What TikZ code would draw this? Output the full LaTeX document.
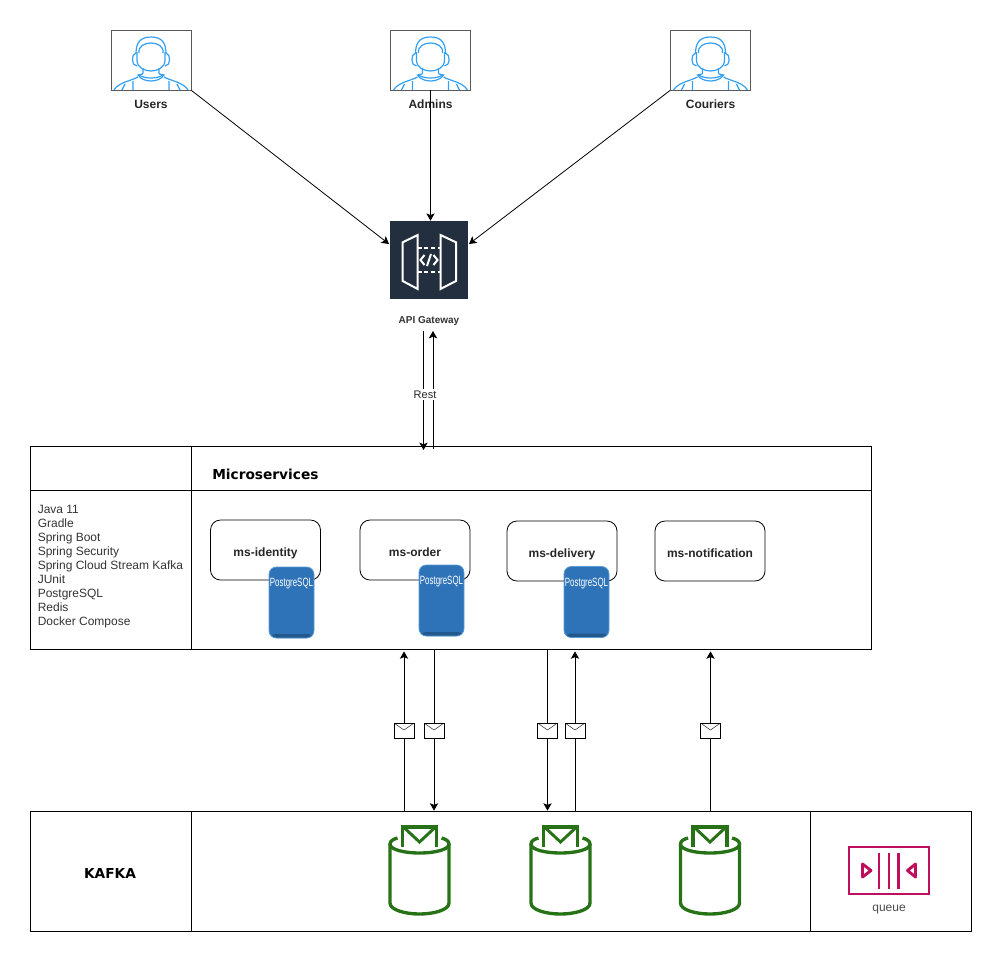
\documentclass[tikz,border=0pt]{standalone}
\usepackage{fontspec}
\setmainfont{Liberation Sans}
\newfontfamily\titlefont{DejaVu Sans}
\usepackage{tikz}
\usetikzlibrary{arrows.meta, positioning}
\definecolor{personblue}{RGB}{51,160,245}
\definecolor{gatewaydark}{RGB}{35,47,62}
\definecolor{storeblue}{RGB}{46,115,184}
\definecolor{storeedge}{RGB}{91,155,213}
\definecolor{storedark}{RGB}{35,88,141}
\definecolor{topicgreen}{RGB}{39,113,22}
\definecolor{queuered}{RGB}{191,15,92}
\newcommand{\px}{0.75pt}
\tikzset{
  flow/.style={-{Stealth[length=5.5pt,width=6.2pt,inset=1.2pt]}, line width=0.6pt},
  plainline/.style={line width=0.6pt},
  cell/.style={draw, line width=0.6pt, inner sep=0pt},
  actorbox/.style={draw=black!65, line width=0.7pt, inner sep=0pt, minimum width=80*\px, minimum height=60*\px},
  actorname/.style={font=\fontsize{9}{11}\selectfont\bfseries, text=black!85, inner sep=1pt, text height=6.6pt, text depth=0pt},
  servicebox/.style={draw, rounded corners=7.5pt, line width=0.6pt, inner sep=0pt, minimum width=110*\px, minimum height=60*\px,
    font=\fontsize{9}{11}\selectfont\bfseries, text=black!85, text height=9.5pt, text depth=0pt},
  pgstore/.style={draw=storeedge, fill=storeblue, rounded corners=5.5pt, line width=0.6pt, inner sep=0pt,
    minimum width=45*\px, minimum height=71*\px,
    path picture={\fill[storedark] (path picture bounding box.south west) rectangle ++(46,-4);},
    label={[anchor=north, inner sep=0pt, yshift=-8.5pt, text=white, font=\fontsize{9}{11}\selectfont]north:\scalebox{0.66}[1]{PostgreSQL}}},
  mailbox/.style={draw, fill=white, line width=0.6pt, inner sep=0pt, minimum width=20*\px, minimum height=15*\px,
    path picture={\draw[line width=0.4pt, black!80] (path picture bounding box.north west) -- ++(10,7) -- (path picture bounding box.north east);}},
  personicon/.pic={
    \begin{scope}[personblue, line width=0.9pt]
      \draw (-15,-6) .. controls (-15,-16) and (-12,-23) .. (0,-23) .. controls (12,-23) and (15,-16) .. (15,-6);
      \draw (-12,-7) .. controls (-13,-14) and (-6,-17) .. (0,-17) .. controls (6,-17) and (13,-14) .. (12,-7);
      \draw (-14,-8) -- (-14,0) .. controls (-14,8) and (-6,11) .. (0,11) .. controls (6,11) and (14,8) .. (14,0) -- (14,-8);
      \draw (-15,-7) .. controls (-20,-6) and (-20,6) .. (-14,6);
      \draw (15,-7) .. controls (20,-6) and (20,6) .. (14,6);
      \draw (-8,8) -- (-8,13) .. controls (-8,15) and (-12,14) .. (-13,15) .. controls (-8,23) and (8,23) .. (13,15) .. controls (12,14) and (8,15) .. (8,13) -- (8,8);
      \draw (-12,15) .. controls (-6,19) and (6,19) .. (12,15);
      \draw (-37,30) .. controls (-32,22) and (-20,21) .. (-13,17);
      \draw (37,30) .. controls (32,22) and (20,21) .. (13,17);
      \draw (-26,24) -- (-29,30) (-18,21) -- (-18,30) (26,24) -- (29,30) (18,21) -- (18,30);
    \end{scope}
  },
  topicicon/.pic={
    \begin{scope}[topicgreen, line width=2.5pt]
      \draw (-17,-23) -- (-17,-43) -- (17,-43) -- (17,-23);
      \draw[line width=2.2pt] (-15,-42) -- (0,-28) -- (15,-42);
      \draw (-22,-32) .. controls (-26,-31) and (-29.5,-29) .. (-29.5,-26) .. controls (-29.5,-20) and (-14,-17) .. (0,-17) .. controls (14,-17) and (29.5,-20) .. (29.5,-26) .. controls (29.5,-29) and (26,-31) .. (22,-32);
      \draw (-29.5,-26) -- (-29.5,33) .. controls (-29.5,40) and (-14,44) .. (0,44) .. controls (14,44) and (29.5,40) .. (29.5,33) -- (29.5,-26);
    \end{scope}
  }
}

\begin{document}
\begin{tikzpicture}[x=\px, y=-\px]
  \useasboundingbox (0,0) rectangle (1002,961);

  % actors
  \node[actorbox] (users) at (151,60) {};
  \node[actorbox] (admins) at (430.5,60) {};
  \node[actorbox] (couriers) at (710.5,60) {};
  \foreach \who in {users, admins, couriers} {
    \pic at (\who) {personicon};
  }
  \node[actorname, below=5.5pt of users] (usersname) {Users};
  \node[actorname, below=5.5pt of admins] (adminsname) {Admins};
  \node[actorname, below=5.5pt of couriers] (couriersname) {Couriers};

  % gateway
  \node[fill=gatewaydark, inner sep=0pt, minimum width=78*\px, minimum height=78*\px] (gateway) at (429,260) {};
  \begin{scope}[white, line width=1.5pt]
    \draw (402.7,242.3) -- (417.7,235) -- (417.7,289) -- (402.7,281) -- cycle;
    \draw (456,242.3) -- (440.5,235) -- (440.5,289) -- (456,281) -- cycle;
    \draw[dashed, dash pattern=on 3pt off 2pt] (417.7,247.7) -- (440.5,247.7);
    \draw[dashed, dash pattern=on 3pt off 2pt] (417.7,272) -- (440.5,272);
    \draw (424.5,255) -- (420.5,260) -- (424.5,265);
    \draw (433.5,255) -- (437.5,260) -- (433.5,265);
    \draw (431,254) -- (427,266);
  \end{scope}
  \node[font=\fontsize{7.5}{9}\selectfont\bfseries, text=black!80, inner sep=1pt] (gatewayname) at (429,321) {API Gateway};
  \coordinate (gwleft) at (389,244);
  \coordinate (gwright) at (469,244);
  \coordinate (gwdown) at (423.5,331);
  \coordinate (gwup) at (433,331);

  % microservices table
  \node[cell, minimum width=161*\px, minimum height=44*\px] (techhead) at (110.5,468) {};
  \node[cell, minimum width=161*\px, minimum height=159*\px] (techcell) at (110.5,569.5) {};
  \node[cell, minimum width=680*\px, minimum height=44*\px] (titlecell) at (531,468) {};
  \node[cell, minimum width=680*\px, minimum height=159*\px] (servicecell) at (531,569.5) {};
  \node[anchor=west, inner sep=0pt, font=\titlefont\fontsize{10.3}{12}\selectfont\bfseries] (title) at (212,474) {Microservices};
  \node[anchor=west, align=left, inner sep=0pt, text=black!80, font=\fontsize{9}{10.5}\selectfont] (techlist) at (37.5,566.5) {
    Java 11\\
    Gradle\\
    Spring Boot\\
    Spring Security\\
    Spring Cloud Stream Kafka\\
    JUnit\\
    PostgreSQL\\
    Redis\\
    Docker Compose};
  \coordinate (restin) at (423.5,450);
  \coordinate (restout) at (433,449);

  % services
  \node[servicebox] (identity) at (265.5,550) {ms-identity};
  \node[servicebox] (order) at (415,550) {ms-order};
  \node[servicebox] (delivery) at (562,551) {ms-delivery};
  \node[servicebox] (notification) at (710,551) {ms-notification};
  \node[pgstore] (identitydb) at (291.5,602.5) {};
  \node[pgstore] (orderdb) at (441.5,600.5) {};
  \node[pgstore] (deliverydb) at (586.5,602) {};

  % kafka table
  \node[cell, minimum width=161*\px, minimum height=120*\px] (kafkacell) at (110.5,871) {};
  \node[cell, minimum width=619*\px, minimum height=120*\px] (topiccell) at (500.5,871) {};
  \node[cell, minimum width=161*\px, minimum height=120*\px] (legendcell) at (890.5,871) {};
  \node[inner sep=0pt, font=\titlefont\fontsize{10.3}{12}\selectfont\bfseries] (kafkaname) at (110,873) {KAFKA};
  \pic at (419.5,870) {topicicon};
  \pic at (560.5,870) {topicicon};
  \pic at (710,870) {topicicon};

  % queue legend
  \begin{scope}[queuered, line width=2.2pt]
    \draw (849,847) rectangle (929,894);
    \draw (879,852.5) -- (879,888.5) (889,852.5) -- (889,888.5) (898.7,852.5) -- (898.7,888.5);
    \draw[line join=round] (862.5,864) -- (871,870.5) -- (862.5,877) -- cycle;
    \draw[line join=round] (915.5,864) -- (907.5,870.5) -- (915.5,877) -- cycle;
  \end{scope}
  \node[inner sep=0pt, text=black!70, font=\fontsize{9}{11}\selectfont] (queuename) at (889,909) {queue};

  % mails on the queues
  \node[mailbox] (mailA) at (404,730.5) {};
  \node[mailbox] (mailB) at (434,730.5) {};
  \node[mailbox] (mailC) at (547.5,730.5) {};
  \node[mailbox] (mailD) at (575,730.5) {};
  \node[mailbox] (mailE) at (710.5,730.5) {};

  % connectors
  \draw[flow] (users.south east) -- (gwleft);
  \draw[flow] (admins.south) -- (gateway.north -| admins);
  \draw[flow] (couriers.south west) -- (gwright);
  \draw[flow] (gwdown) -- (restin);
  \draw[flow] (restout) -- (gwup);
  \draw[plainline] (topiccell.north -| mailA) -- (mailA.south);
  \draw[flow, shorten >=1.5pt] (mailA.north) -- (servicecell.south -| mailA);
  \draw[plainline] (servicecell.south -| mailB) -- (mailB.north);
  \draw[flow] (mailB.south) -- (topiccell.north -| mailB);
  \draw[plainline] (servicecell.south -| mailC) -- (mailC.north);
  \draw[flow] (mailC.south) -- (topiccell.north -| mailC);
  \draw[plainline] (topiccell.north -| mailD) -- (mailD.south);
  \draw[flow, shorten >=1.5pt] (mailD.north) -- (servicecell.south -| mailD);
  \draw[plainline] (topiccell.north -| mailE) -- (mailE.south);
  \draw[flow, shorten >=1.5pt] (mailE.north) -- (servicecell.south -| mailE);

  % label over the lines
  \node[fill=white, inner sep=1pt, font=\fontsize{8.25}{10}\selectfont, text=black!85] (restlabel) at (425,394.5) {Rest};
\end{tikzpicture}
\end{document}
